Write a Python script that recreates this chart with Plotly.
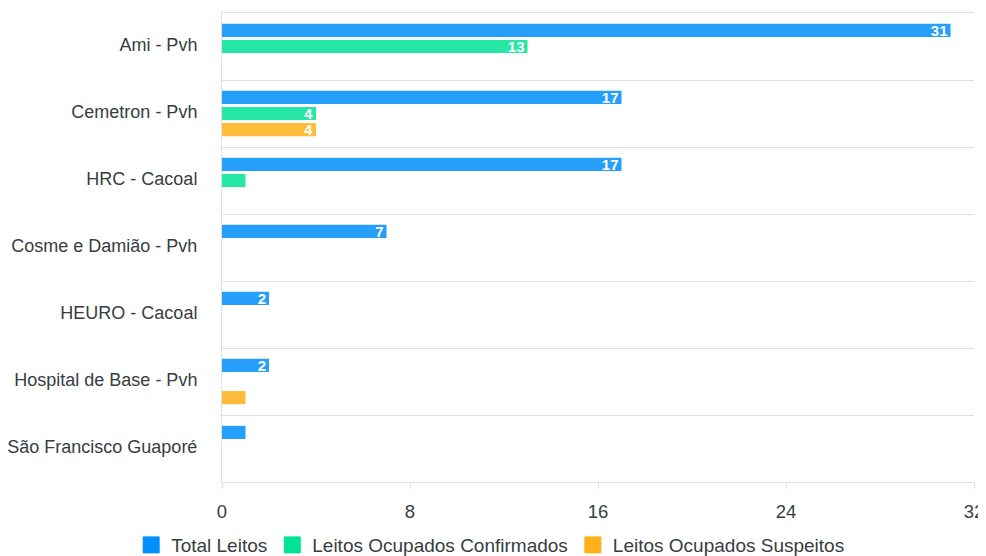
import plotly.graph_objects as go

categories = ["Ami - Pvh", "Cemetron - Pvh", "HRC - Cacoal", "Cosme e Damião - Pvh",
              "HEURO - Cacoal", "Hospital de Base - Pvh", "São Francisco Guaporé"]
total_leitos = [31, 17, 17, 7, 2, 2, 1]
ocupados_confirmados = [13, 4, 1, 0, 0, 0, 0]
ocupados_suspeitos = [0, 4, 0, 0, 0, 1, 0]
x_ticks = [0, 8, 16, 24, 32]

series = [
    ("Total Leitos", total_leitos, "#269FFB", "#008FFB"),
    ("Leitos Ocupados Confirmados", ocupados_confirmados, "#26E7A6", "#00E396"),
    ("Leitos Ocupados Suspeitos", ocupados_suspeitos, "#FEBC3B", "#FEB019"),
]

FONT = "Liberation Sans, Arial, Helvetica, sans-serif"

fig = go.Figure()
for name, vals, color, legend_color in series:
    fig.add_trace(go.Bar(
        y=categories, x=vals, name=name, orientation="h",
        marker=dict(color=color, line=dict(width=0)),
        text=[str(v) if v >= 2 else "" for v in vals],
        textposition="inside", insidetextanchor="end", constraintext="none",
        textangle=0,
        textfont=dict(color="white", size=15, family=FONT, weight="bold"),
        hoverinfo="x+name", showlegend=False, legendgroup=name,
    ))
for name, vals, color, legend_color in series:
    fig.add_trace(go.Scatter(
        x=[None], y=[None], mode="markers", name=name, legendgroup=name,
        marker=dict(symbol="square", size=16, color=legend_color,
                    line=dict(width=1, color=legend_color)),
        showlegend=True,
    ))

fig.update_layout(
    width=978, height=548,
    margin=dict(l=214, r=12, t=5, b=74),
    barmode="group", bargap=0.28, bargroupgap=0.18,
    plot_bgcolor="white", paper_bgcolor="white",
    font=dict(family=FONT, size=18, color="#373d3f"),
    showlegend=True,
    legend=dict(orientation="h", xref="container", yref="container",
                x=0.4935, xanchor="center", y=0.02, yanchor="middle",
                font=dict(size=19, color="#373d3f"), traceorder="normal",
                itemsizing="trace"),
    xaxis=dict(range=[0, 32], tickvals=x_ticks, ticktext=[str(t) for t in x_ticks],
               showgrid=False, zeroline=False, showline=True, mirror=True,
               linecolor="#e0e0e0", linewidth=1, ticks="outside", ticklen=6,
               tickcolor="#e0e0e0", ticklabelstandoff=7, automargin=False,
               tickfont=dict(size=18.5, color="#373d3f")),
    yaxis=dict(autorange="reversed", tickson="boundaries", showgrid=True,
               gridcolor="#e0e0e0", gridwidth=1, showline=True, linecolor="#e0e0e0",
               ticks="", ticklabelstandoff=20, ticklabelshift=2, automargin=False,
               tickfont=dict(size=18, color="#373d3f")),
)

fig.write_html("out.html")
